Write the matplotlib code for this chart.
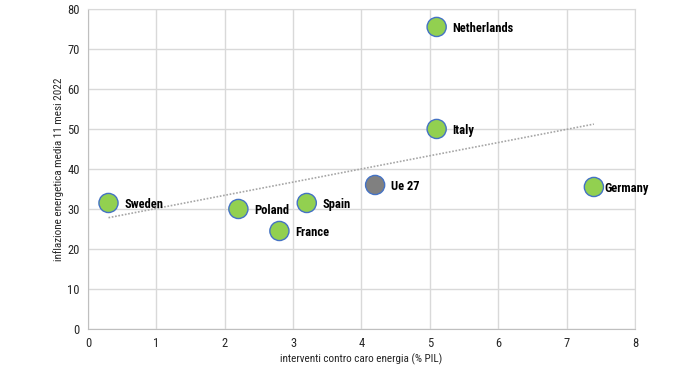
import numpy as np
import matplotlib
matplotlib.use("Agg")
import matplotlib.pyplot as plt

names = ["Sweden", "Poland", "France", "Spain", "Ue 27", "Netherlands", "Italy", "Germany"]
x_vals = [0.3, 2.2, 2.8, 3.2, 4.2, 5.1, 5.1, 7.4]
y_vals = [31.5, 30.0, 24.5, 31.5, 36.0, 75.5, 50.0, 35.5]
label_dx = [16, 16, 16, 16, 16, 16, 16, 10]  # pixel offsets for labels

plt.rcParams["font.family"] = ["Roboto Condensed", "Liberation Sans", "DejaVu Sans"]

fig = plt.figure(figsize=(7.0, 3.73), dpi=100)
ax = fig.add_axes([0.1257, 0.118, 0.907 - 0.1257, 0.976 - 0.118])

ax.set_xlim(0, 8)
ax.set_ylim(0, 80)
ax.set_xticks(range(0, 9))
ax.set_yticks(range(0, 81, 10))
ax.grid(True, color="#D9D9D9", linewidth=1.0)
ax.set_axisbelow(True)
for s in ax.spines.values():
    s.set_color("#D9D9D9")
ax.spines["left"].set_color("#BFBFBF")
ax.spines["bottom"].set_color("#BFBFBF")
ax.tick_params(length=0, labelsize=9, colors="#262626", pad=6)

# trendline (linear fit on all points)
m, b = np.polyfit(np.array(x_vals), np.array(y_vals), 1)
tx = np.array([min(x_vals), max(x_vals)])
ax.plot(tx, m * tx + b, linestyle=(0, (1, 1)), color="#A6A6A6", linewidth=1.2, zorder=2)

colors = ["#808080" if n == "Ue 27" else "#92D050" for n in names]
ax.scatter(x_vals, y_vals, s=190, c=colors, edgecolors="#4472C4", linewidths=1.0, zorder=3)

for n, x, y, dx in zip(names, x_vals, y_vals, label_dx):
    ax.annotate(n, (x, y), xytext=(dx * 0.72, -1), textcoords="offset points",
                ha="left", va="center", fontsize=9, fontweight="bold", color="#000000")

ax.set_xlabel("interventi contro caro energia (% PIL)", fontsize=8, color="#262626", labelpad=2)
ax.set_ylabel("inflazione energetica media 11 mesi 2022", fontsize=8, color="#262626", labelpad=2)

fig.savefig("out.png", dpi=100, facecolor="white")
